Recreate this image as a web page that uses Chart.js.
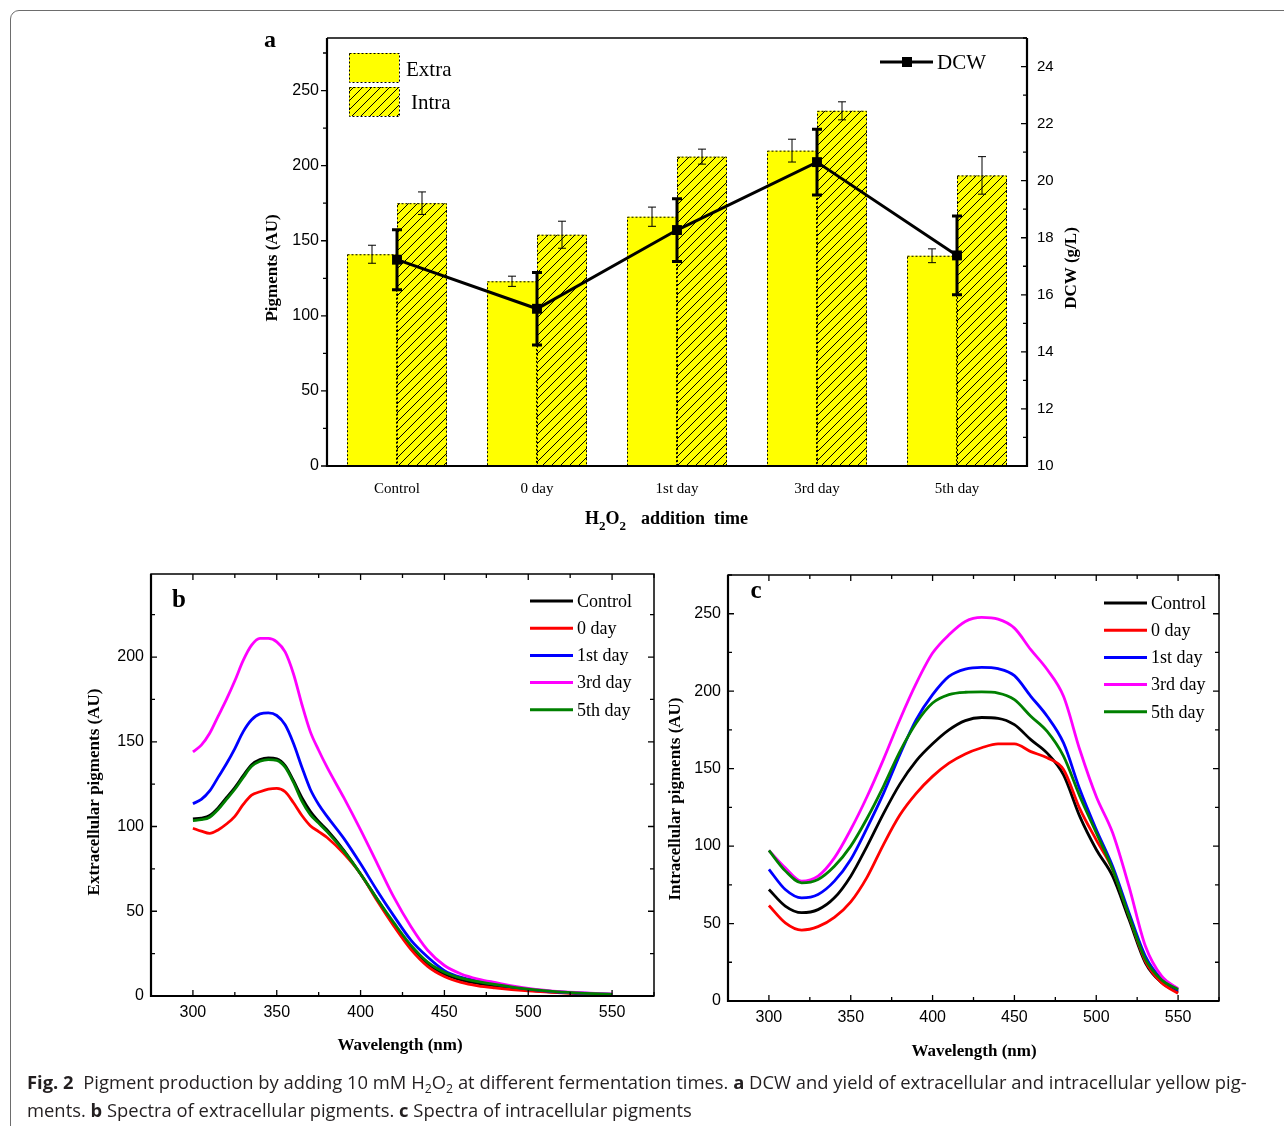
<!DOCTYPE html>
<html>
<head>
<meta charset="utf-8">
<script src="https://cdn.jsdelivr.net/npm/chart.js@4.4.1/dist/chart.umd.min.js"></script>
<style>
  html, body { margin: 0; padding: 0; background: #fff; }
  #page { position: relative; width: 1284px; height: 1126px; overflow: hidden; }
  canvas { position: absolute; left: 0; top: 0; }
  #frame { position: absolute; left: 10px; top: 10px; width: 1320px; height: 1160px;
           border: 1.5px solid #6d6d6d; border-radius: 9px; box-sizing: border-box; }
  .cap { position: absolute; left: 27px; font-family: "Open Sans"; font-size: 18px; line-height: 24px;
         color: #231f20; white-space: nowrap; transform-origin: 0 0; }
  .cap sub { font-size: 12px; line-height: 0; vertical-align: -4px; }
</style>
</head>
<body>
<div id="page">
  <div id="frame"></div>
  <canvas id="chartA" width="1284" height="1126"></canvas>
  <canvas id="chartB" width="1284" height="1126"></canvas>
  <canvas id="chartC" width="1284" height="1126"></canvas>
  <div class="cap" id="cap1" style="top:1070px"><b>Fig. 2</b>&nbsp; Pigment production by adding 10 mM H<sub>2</sub>O<sub>2</sub> at different fermentation times. <b>a</b> DCW and yield of extracellular and intracellular yellow pig-</div>
  <div class="cap" id="cap2" style="top:1098px">ments. <b>b</b> Spectra of extracellular pigments. <b>c</b> Spectra of intracellular pigments</div>
</div>
<script>
// --- panel a: yields and DCW per H2O2 addition time
const categories = ["Control", "0 day", "1st day", "3rd day", "5th day"];
const extraYield = [141, 123, 166, 210, 140];
const extraErr = [6, 3.4, 6.4, 7.6, 4.6];
const intraYield = [175, 154, 206, 236.5, 193.5];
const intraErr = [7.5, 9, 5, 6, 12.5];
const dcw = [17.23, 15.51, 18.27, 20.65, 17.38];
const dcwErr = [1.05, 1.27, 1.1, 1.15, 1.38];

// --- panel b: extracellular spectra
const seriesLabels = ["Control", "0 day", "1st day", "3rd day", "5th day"];
const seriesColors = ["#000000", "#ff0000", "#0000ff", "#ff00ff", "#008000"];
const wavelengthsB = [300, 305, 310, 315, 320, 325, 330, 335, 340, 345, 350, 355, 360, 365, 370, 375, 380, 390, 400, 410, 420, 430, 440, 450, 460, 470, 480, 500, 520, 550];
const extraControl = [104.5, 105, 106.5, 111, 117, 123, 130, 136.5, 139.5, 140.5, 140, 136, 127, 117, 109, 103, 98, 86, 72, 57, 42, 29, 19, 13, 9.5, 7.5, 6, 3.5, 2, 0.8];
const extraDay0 = [99, 97.3, 96, 98, 101.5, 106, 113, 118.5, 120.5, 122, 122.5, 120.5, 114, 106.5, 100.5, 97, 93.5, 84, 72, 56, 41, 27.5, 17.5, 11.5, 8, 6, 4.8, 3, 1.8, 0.8];
const extraDay1 = [113.5, 116, 121, 129, 137, 146, 156, 163, 166.5, 167, 165.5, 160, 149, 135, 122, 113, 106, 93, 78, 62, 47, 33, 23, 15, 11, 9, 7, 4, 2.2, 1];
const extraDay3 = [144, 148, 155, 165, 175, 186, 198, 207, 211, 211, 209, 203, 190, 172, 156, 145, 135, 117, 98, 78, 58, 41, 27, 18, 13, 10, 8, 4.5, 2.5, 1.2];
const extraDay5 = [103.5, 104, 105.5, 110, 116, 122, 129, 135.5, 138.5, 139.5, 139, 135, 126, 115, 107, 102, 97, 85.5, 72, 57, 43, 30, 20, 14, 10.5, 8.5, 6.8, 4, 2.3, 1];

// --- panel c: intracellular spectra
const wavelengthsC = [300, 310, 320, 330, 340, 350, 360, 370, 380, 390, 400, 410, 420, 430, 440, 450, 460, 470, 480, 490, 500, 510, 520, 530, 540, 550];
const intraControl = [72, 61.3, 57, 59, 66.6, 80.6, 100, 121, 140, 155, 166, 175, 181, 183, 182.5, 178.4, 168.7, 160, 146, 119, 97.8, 80.6, 52.7, 24.7, 11.8, 5.8];
const intraDay0 = [61.7, 50.5, 45.8, 48, 54, 64, 80, 101, 120, 134, 145, 153.5, 159.5, 163.5, 166, 166, 161, 157, 149.5, 124, 104, 85, 55, 25.8, 11.8, 5];
const intraDay1 = [85, 72, 66.6, 68.8, 77.4, 91.4, 111.8, 134, 159, 181.6, 197.8, 209.6, 214.3, 215.4, 214.5, 210, 196.7, 183.8, 166.6, 136.5, 110.7, 87, 57, 29, 14, 7];
const intraDay3 = [97.2, 86, 77.4, 80.6, 92.4, 110.7, 132, 156, 181.6, 205, 224.6, 236.4, 245, 247.6, 246.5, 240.7, 226.8, 214, 196.7, 162, 132, 108.6, 74, 35.5, 16, 8];
const intraDay5 = [97.2, 84, 76.3, 78.5, 87, 100, 118, 138.6, 161, 179.5, 192.4, 197.8, 199.3, 199.5, 198.8, 194.5, 183.8, 174, 158, 132, 108.6, 85, 55, 27, 13.5, 7.5];

const SERIF = '"Liberation Serif", "Times New Roman", serif';
const SANS = '"Liberation Sans", Arial, sans-serif';
const YELLOW = "#ffff00";

function vText(ctx, text, x, y, font) {
  ctx.save();
  ctx.translate(x, y);
  ctx.rotate(-Math.PI / 2);
  ctx.font = font;
  ctx.textAlign = "center";
  ctx.textBaseline = "middle";
  ctx.fillText(text, 0, 0);
  ctx.restore();
}

function errorBar(ctx, x, yTop, yBot, cap) {
  ctx.beginPath();
  ctx.moveTo(x, yTop); ctx.lineTo(x, yBot);
  ctx.moveTo(x - cap, yTop); ctx.lineTo(x + cap, yTop);
  ctx.moveTo(x - cap, yBot); ctx.lineTo(x + cap, yBot);
  ctx.stroke();
}

function makeHatch(target) {
  const s = 9;
  const c = document.createElement("canvas");
  c.width = s; c.height = s;
  const g = c.getContext("2d");
  g.fillStyle = YELLOW;
  g.fillRect(0, 0, s, s);
  g.strokeStyle = "#000";
  g.lineWidth = 1;
  g.beginPath();
  g.moveTo(0, s); g.lineTo(s, 0);
  g.moveTo(-s / 2, s / 2); g.lineTo(s / 2, -s / 2);
  g.moveTo(s / 2, s * 1.5); g.lineTo(s * 1.5, s / 2);
  g.stroke();
  return target.getContext("2d").createPattern(c, "repeat");
}

const canvasA = document.getElementById("chartA");
const hatch = makeHatch(canvasA);

// ---------- Panel a ----------
const panelA = {
  id: "panelA",
  afterDatasetDraw(chart, args) {
    const ctx = chart.ctx;
    const y = chart.scales.y, y2 = chart.scales.y2;
    ctx.save();
    ctx.strokeStyle = "#000";
    if (args.index === 0 || args.index === 1) {
      const errs = args.index === 0 ? extraErr : intraErr;
      const vals = args.index === 0 ? extraYield : intraYield;
      args.meta.data.forEach((bar, i) => {
        const p = bar.getProps(["x", "y", "base", "width"], true);
        ctx.setLineDash([2, 2]);
        ctx.lineWidth = 1;
        ctx.strokeRect(p.x - p.width / 2 + 0.5, p.y + 0.5, p.width - 1, p.base - p.y);
        ctx.setLineDash([]);
        errorBar(ctx, p.x, y.getPixelForValue(vals[i] + errs[i]), y.getPixelForValue(vals[i] - errs[i]), 4);
      });
    } else if (args.index === 2) {
      ctx.lineWidth = 3;
      args.meta.data.forEach((pt, i) => {
        errorBar(ctx, pt.x, y2.getPixelForValue(dcw[i] + dcwErr[i]), y2.getPixelForValue(dcw[i] - dcwErr[i]), 5);
      });
    }
    ctx.restore();
  },
  afterDraw(chart) {
    const ctx = chart.ctx, a = chart.chartArea;
    const y = chart.scales.y, y2 = chart.scales.y2;
    ctx.save();
    ctx.strokeStyle = "#000";
    ctx.fillStyle = "#000";
    // frame
    ctx.lineWidth = 1.5;
    ctx.beginPath(); ctx.moveTo(a.left, a.top); ctx.lineTo(a.right, a.top); ctx.stroke();
    ctx.lineWidth = 2.2;
    ctx.beginPath();
    ctx.moveTo(a.left, a.top); ctx.lineTo(a.left, a.bottom); ctx.lineTo(a.right, a.bottom); ctx.lineTo(a.right, a.top);
    ctx.stroke();
    // ticks: left outward, right inward
    ctx.lineWidth = 1.3;
    ctx.beginPath();
    y.ticks.forEach(t => {
      const p = y.getPixelForValue(t.value);
      const len = t.value % 50 === 0 ? 6 : 4;
      ctx.moveTo(a.left, p); ctx.lineTo(a.left - len, p);
    });
    y2.ticks.forEach(t => {
      const p = y2.getPixelForValue(t.value);
      const len = t.value % 2 === 0 ? 6 : 4;
      ctx.moveTo(a.right, p); ctx.lineTo(a.right - len, p);
    });
    ctx.stroke();

    // legend: Extra / Intra
    ctx.fillStyle = YELLOW;
    ctx.fillRect(349, 53, 50, 29);
    ctx.fillStyle = hatch;
    ctx.fillRect(349, 87, 50, 29);
    ctx.setLineDash([2, 2]);
    ctx.lineWidth = 1;
    ctx.strokeRect(349.5, 53.5, 50, 29);
    ctx.strokeRect(349.5, 87.5, 50, 29);
    ctx.setLineDash([]);
    ctx.fillStyle = "#000";
    ctx.font = "21px " + SERIF;
    ctx.textAlign = "left";
    ctx.textBaseline = "middle";
    ctx.fillText("Extra", 406, 70);
    ctx.fillText("Intra", 411, 103);
    // legend: DCW
    ctx.lineWidth = 3;
    ctx.beginPath(); ctx.moveTo(880, 62); ctx.lineTo(933, 62); ctx.stroke();
    ctx.fillRect(902, 57, 10, 10);
    ctx.fillText("DCW", 937, 63);

    // titles
    vText(ctx, "Pigments (AU)", 273, 268, "bold 17px " + SERIF);
    vText(ctx, "DCW (g/L)", 1072, 268, "bold 17px " + SERIF);
    ctx.font = "bold 24px " + SERIF;
    ctx.textAlign = "center";
    ctx.fillText("a", 270, 41);
    // x title with subscripts
    ctx.textAlign = "left";
    ctx.textBaseline = "alphabetic";
    const big = "bold 18px " + SERIF, small = "bold 13px " + SERIF;
    let cx = 585;
    [["H", big, 0], ["2", small, 6], ["O", big, 0], ["2", small, 6]].forEach(([t, f, dy]) => {
      ctx.font = f;
      ctx.fillText(t, cx, 524 + dy);
      cx += ctx.measureText(t).width;
    });
    ctx.font = big;
    ctx.fillText("addition", 641, 524);
    ctx.fillText("time", 714, 524);
    ctx.restore();
  }
};

new Chart(canvasA, {
  type: "bar",
  data: {
    labels: categories,
    datasets: [
      { label: "Extra", data: extraYield, backgroundColor: YELLOW, borderWidth: 0, order: 1,
        categoryPercentage: 100 / 140, barPercentage: 1 },
      { label: "Intra", data: intraYield, backgroundColor: hatch, borderWidth: 0, order: 2,
        categoryPercentage: 100 / 140, barPercentage: 1 },
      { type: "line", label: "DCW", data: dcw, yAxisID: "y2", order: 0,
        borderColor: "#000", borderWidth: 3, tension: 0,
        pointStyle: "rect", pointRadius: 7, pointBackgroundColor: "#000", pointBorderWidth: 0 }
    ]
  },
  options: {
    responsive: false,
    animation: false,
    events: [],
    layout: { padding: { left: 287, right: 217, top: 38, bottom: 630 } },
    plugins: { legend: { display: false }, tooltip: { enabled: false } },
    scales: {
      x: {
        type: "category",
        offset: true,
        grid: { display: false, drawTicks: false },
        border: { display: false },
        ticks: { padding: 14, color: "#000", font: { family: SERIF, size: 15 } },
        afterFit: s => { s.height = 30; }
      },
      y: {
        position: "left",
        min: 0, max: 285,
        grid: { display: false, drawTicks: false },
        border: { display: false },
        ticks: { stepSize: 25, includeBounds: false, padding: 8, color: "#000",
                 font: { family: SANS, size: 16 },
                 callback: v => (v % 50 === 0 ? v : "") },
        afterFit: s => { s.width = 40; }
      },
      y2: {
        position: "right",
        min: 10, max: 25,
        grid: { display: false, drawTicks: false },
        border: { display: false },
        ticks: { stepSize: 1, includeBounds: false, padding: 10, color: "#000",
                 font: { family: SANS, size: 15 },
                 callback: v => (v % 2 === 0 && v < 25 ? v : "") },
        afterFit: s => { s.width = 40; }
      }
    }
  },
  plugins: [panelA]
});

// ---------- Panels b and c ----------
function spectrumChart(canvasId, xs, series, cfg) {
  const decor = {
    id: "decor" + canvasId,
    afterDraw(chart) {
      const ctx = chart.ctx, a = chart.chartArea;
      const sx = chart.scales.x, sy = chart.scales.y;
      ctx.save();
      ctx.strokeStyle = "#000";
      ctx.fillStyle = "#000";
      ctx.lineWidth = 1.5;
      ctx.strokeRect(a.left, a.top, a.right - a.left, a.bottom - a.top);
      ctx.lineWidth = 2.2;
      ctx.beginPath();
      ctx.moveTo(a.left, a.top); ctx.lineTo(a.left, a.bottom); ctx.lineTo(a.right, a.bottom);
      ctx.stroke();
      // inward ticks on all four sides
      ctx.lineWidth = 1.3;
      ctx.beginPath();
      sy.ticks.forEach(t => {
        const p = sy.getPixelForValue(t.value);
        const len = t.value % 50 === 0 ? 6 : 4;
        ctx.moveTo(a.left, p); ctx.lineTo(a.left + len, p);
        ctx.moveTo(a.right, p); ctx.lineTo(a.right - len, p);
      });
      sx.ticks.forEach(t => {
        const p = sx.getPixelForValue(t.value);
        const len = t.value % 50 === 0 ? 6 : 4;
        ctx.moveTo(p, a.bottom); ctx.lineTo(p, a.bottom - len);
        ctx.moveTo(p, a.top); ctx.lineTo(p, a.top + len);
      });
      ctx.stroke();
      // legend
      ctx.font = "18px " + SERIF;
      ctx.textAlign = "left";
      ctx.textBaseline = "middle";
      chart.data.datasets.forEach((ds, i) => {
        const ly = cfg.legendY + i * 27.2;
        ctx.strokeStyle = ds.borderColor;
        ctx.lineWidth = 3;
        ctx.beginPath(); ctx.moveTo(cfg.legendX, ly); ctx.lineTo(cfg.legendX + 43, ly); ctx.stroke();
        ctx.fillText(ds.label, cfg.legendX + 47, ly + 1);
      });
      // titles
      vText(ctx, cfg.yTitle, cfg.yTitleX, cfg.yTitleY, "bold 17px " + SERIF);
      ctx.font = "bold 17px " + SERIF;
      ctx.textAlign = "center";
      ctx.fillText("Wavelength (nm)", cfg.xTitleX, cfg.xTitleY);
      ctx.font = "bold 25px " + SERIF;
      ctx.fillText(cfg.letter, cfg.letterX, cfg.letterY);
      ctx.restore();
    }
  };
  return new Chart(document.getElementById(canvasId), {
    type: "line",
    data: {
      datasets: series.map((vals, i) => ({
        label: seriesLabels[i],
        data: xs.map((x, k) => ({ x: x, y: vals[k] })),
        borderColor: seriesColors[i],
        borderWidth: 2.8,
        pointRadius: 0,
        cubicInterpolationMode: "monotone",
        fill: false,
        order: series.length - i
      }))
    },
    options: {
      responsive: false,
      animation: false,
      events: [],
      layout: { padding: cfg.padding },
      plugins: { legend: { display: false }, tooltip: { enabled: false } },
      scales: {
        x: {
          type: "linear",
          min: 275, max: 575,
          grid: { display: false, drawTicks: false },
          border: { display: false },
          ticks: { stepSize: 25, includeBounds: false, padding: 7, color: "#000",
                   font: { family: SANS, size: 16 },
                   callback: v => (v % 50 === 0 && v >= 300 && v <= 550 ? v : "") },
          afterFit: s => { s.height = 30; }
        },
        y: {
          min: 0, max: cfg.yMax,
          grid: { display: false, drawTicks: false },
          border: { display: false },
          ticks: { stepSize: 25, includeBounds: false, padding: 7, color: "#000",
                   font: { family: SANS, size: 16 },
                   callback: v => (v % 50 === 0 ? v : "") },
          afterFit: s => { s.width = 40; }
        }
      }
    },
    plugins: [decor]
  });
}

spectrumChart("chartB", wavelengthsB,
  [extraControl, extraDay0, extraDay1, extraDay3, extraDay5],
  { padding: { left: 111, right: 630, top: 574, bottom: 100 }, yMax: 249,
    legendX: 530, legendY: 601, yTitle: "Extracellular pigments (AU)", yTitleX: 95, yTitleY: 792,
    xTitleX: 400, xTitleY: 1046, letter: "b", letterX: 179, letterY: 601 });

spectrumChart("chartC", wavelengthsC,
  [intraControl, intraDay0, intraDay1, intraDay3, intraDay5],
  { padding: { left: 688, right: 65, top: 575, bottom: 95 }, yMax: 275,
    legendX: 1104, legendY: 603, yTitle: "Intracellular pigments (AU)", yTitleX: 676, yTitleY: 799,
    xTitleX: 974, xTitleY: 1052, letter: "c", letterX: 756, letterY: 592 });

// caption width: stretch to the measured line length of the reference
const cap1 = document.getElementById("cap1"), cap2 = document.getElementById("cap2");
const k = 1220 / cap1.scrollWidth;
cap1.style.transform = "scaleX(" + k + ")";
cap2.style.transform = "scaleX(" + k + ")";
</script>
</body>
</html>
